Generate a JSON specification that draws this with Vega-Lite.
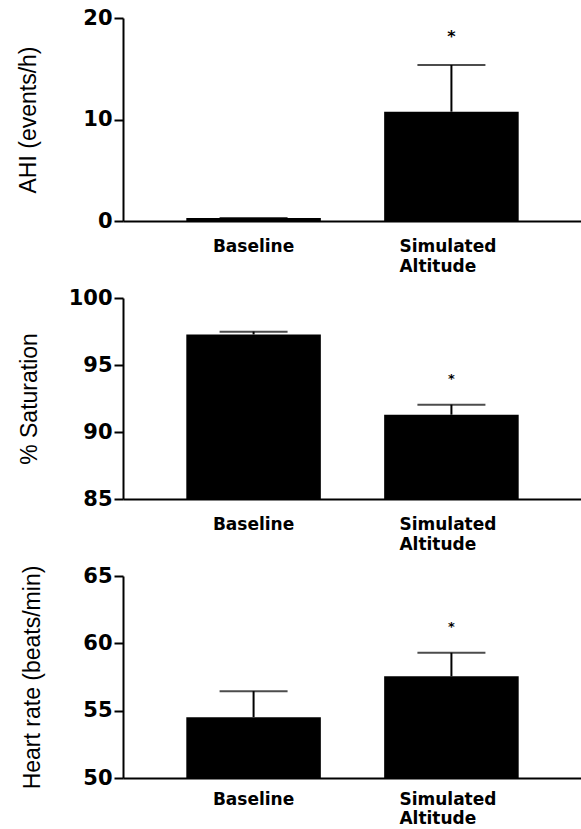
{
  "$schema": "https://vega.github.io/schema/vega-lite/v6.json",
  "background": "white",
  "padding": {"left": 17, "top": 7, "right": 0, "bottom": 0},
  "spacing": 77,
  "bounds": "flush",
  "config": {
    "view": {"stroke": null},
    "axis": {"domainColor": "black", "domainWidth": 2, "tickColor": "black", "tickWidth": 2, "labelColor": "black", "titleColor": "black", "grid": false},
    "axisY": {"labelFont": "DejaVu Sans", "labelFontWeight": "bold", "labelFontSize": 21, "tickSize": 9, "labelPadding": 2, "titleFont": "Liberation Sans", "titleFontSize": 23, "titleFontWeight": "normal"},
    "axisX": {"labelFont": "DejaVu Sans", "labelFontWeight": "bold", "labelFontSize": 17, "ticks": false, "tickSize": 0, "labelPadding": 17, "labelAngle": 0, "labelLineHeight": 20, "labelBaseline": "top"}
  },
  "vconcat": [
    {
      "width": 459,
      "height": 203,
      "data": {"values": [
        {"condition": "Baseline", "mean": 0.3, "upper": 0.3, "sig": ""},
        {"condition": "Simulated Altitude", "mean": 10.77, "upper": 15.37, "sig": "*"}
      ]},
      "encoding": {
        "x": {"field": "condition", "type": "nominal", "sort": null, "title": null,
          "scale": {"paddingInner": 0.32, "paddingOuter": 0.32},
          "axis": {
            "labelExpr": "datum.value === 'Simulated Altitude' ? ['Simulated', 'Altitude'] : datum.value",
            "labelAlign": {"condition": {"test": "datum.value === 'Simulated Altitude'", "value": "left"}, "value": "center"},
            "labelOffset": {"condition": {"test": "datum.value === 'Simulated Altitude'", "value": -52}, "value": 0}
          }
        }
      },
      "layer": [
        {"mark": {"type": "bar", "color": "black"},
         "encoding": {
           "y": {"field": "mean", "type": "quantitative", "title": "AHI (events/h)",
             "scale": {"domain": [0, 20], "nice": false, "zero": false},
             "axis": {"values": [0, 10, 20], "titlePadding": 42}},
           "y2": {"datum": 0}
         }},
        {"mark": {"type": "rule", "color": "black", "strokeWidth": 2},
         "encoding": {"y": {"field": "mean", "type": "quantitative", "title": "AHI (events/h)"}, "y2": {"field": "upper"}}},
        {"mark": {"type": "tick", "color": "black", "thickness": 2, "size": 68},
         "encoding": {"y": {"field": "upper", "type": "quantitative", "title": "AHI (events/h)"}}},
        {"mark": {"type": "text", "dy": -23, "fontSize": 16, "fontWeight": "bold", "font": "DejaVu Sans", "baseline": "alphabetic", "color": "black"},
         "encoding": {"y": {"field": "upper", "type": "quantitative", "title": "AHI (events/h)"}, "text": {"field": "sig"}}}
      ]
    },
    {
      "width": 459,
      "height": 201,
      "data": {"values": [
        {"condition": "Baseline", "mean": 97.28, "upper": 97.49, "sig": ""},
        {"condition": "Simulated Altitude", "mean": 91.29, "upper": 92.04, "sig": "*"}
      ]},
      "encoding": {
        "x": {"field": "condition", "type": "nominal", "sort": null, "title": null,
          "scale": {"paddingInner": 0.32, "paddingOuter": 0.32},
          "axis": {
            "labelExpr": "datum.value === 'Simulated Altitude' ? ['Simulated', 'Altitude'] : datum.value",
            "labelAlign": {"condition": {"test": "datum.value === 'Simulated Altitude'", "value": "left"}, "value": "center"},
            "labelOffset": {"condition": {"test": "datum.value === 'Simulated Altitude'", "value": -52}, "value": 0}
          }
        }
      },
      "layer": [
        {"mark": {"type": "bar", "color": "black"},
         "encoding": {
           "y": {"field": "mean", "type": "quantitative", "title": "% Saturation",
             "scale": {"domain": [85, 100], "nice": false, "zero": false},
             "axis": {"values": [85, 90, 95, 100], "titlePadding": 27}},
           "y2": {"datum": 85}
         }},
        {"mark": {"type": "rule", "color": "black", "strokeWidth": 2},
         "encoding": {"y": {"field": "mean", "type": "quantitative", "title": "% Saturation"}, "y2": {"field": "upper"}}},
        {"mark": {"type": "tick", "color": "black", "thickness": 2, "size": 68},
         "encoding": {"y": {"field": "upper", "type": "quantitative", "title": "% Saturation"}}},
        {"mark": {"type": "text", "dy": -22, "fontSize": 13, "fontWeight": "bold", "font": "DejaVu Sans", "baseline": "alphabetic", "color": "black"},
         "encoding": {"y": {"field": "upper", "type": "quantitative", "title": "% Saturation"}, "text": {"field": "sig"}}}
      ]
    },
    {
      "width": 459,
      "height": 202,
      "data": {"values": [
        {"condition": "Baseline", "mean": 54.52, "upper": 56.45, "sig": ""},
        {"condition": "Simulated Altitude", "mean": 57.55, "upper": 59.3, "sig": "*"}
      ]},
      "encoding": {
        "x": {"field": "condition", "type": "nominal", "sort": null, "title": null,
          "scale": {"paddingInner": 0.32, "paddingOuter": 0.32},
          "axis": {
            "labelPadding": 13,
            "labelLineHeight": 19,
            "labelExpr": "datum.value === 'Simulated Altitude' ? ['Simulated', 'Altitude'] : datum.value",
            "labelAlign": {"condition": {"test": "datum.value === 'Simulated Altitude'", "value": "left"}, "value": "center"},
            "labelOffset": {"condition": {"test": "datum.value === 'Simulated Altitude'", "value": -52}, "value": 0}
          }
        }
      },
      "layer": [
        {"mark": {"type": "bar", "color": "black"},
         "encoding": {
           "y": {"field": "mean", "type": "quantitative", "title": "Heart rate (beats/min)",
             "scale": {"domain": [50, 65], "nice": false, "zero": false},
             "axis": {"values": [50, 55, 60, 65], "titlePadding": 38}},
           "y2": {"datum": 50}
         }},
        {"mark": {"type": "rule", "color": "black", "strokeWidth": 2},
         "encoding": {"y": {"field": "mean", "type": "quantitative", "title": "Heart rate (beats/min)"}, "y2": {"field": "upper"}}},
        {"mark": {"type": "tick", "color": "black", "thickness": 2, "size": 68},
         "encoding": {"y": {"field": "upper", "type": "quantitative", "title": "Heart rate (beats/min)"}}},
        {"mark": {"type": "text", "dy": -22, "fontSize": 13, "fontWeight": "bold", "font": "DejaVu Sans", "baseline": "alphabetic", "color": "black"},
         "encoding": {"y": {"field": "upper", "type": "quantitative", "title": "Heart rate (beats/min)"}, "text": {"field": "sig"}}}
      ]
    }
  ]
}
